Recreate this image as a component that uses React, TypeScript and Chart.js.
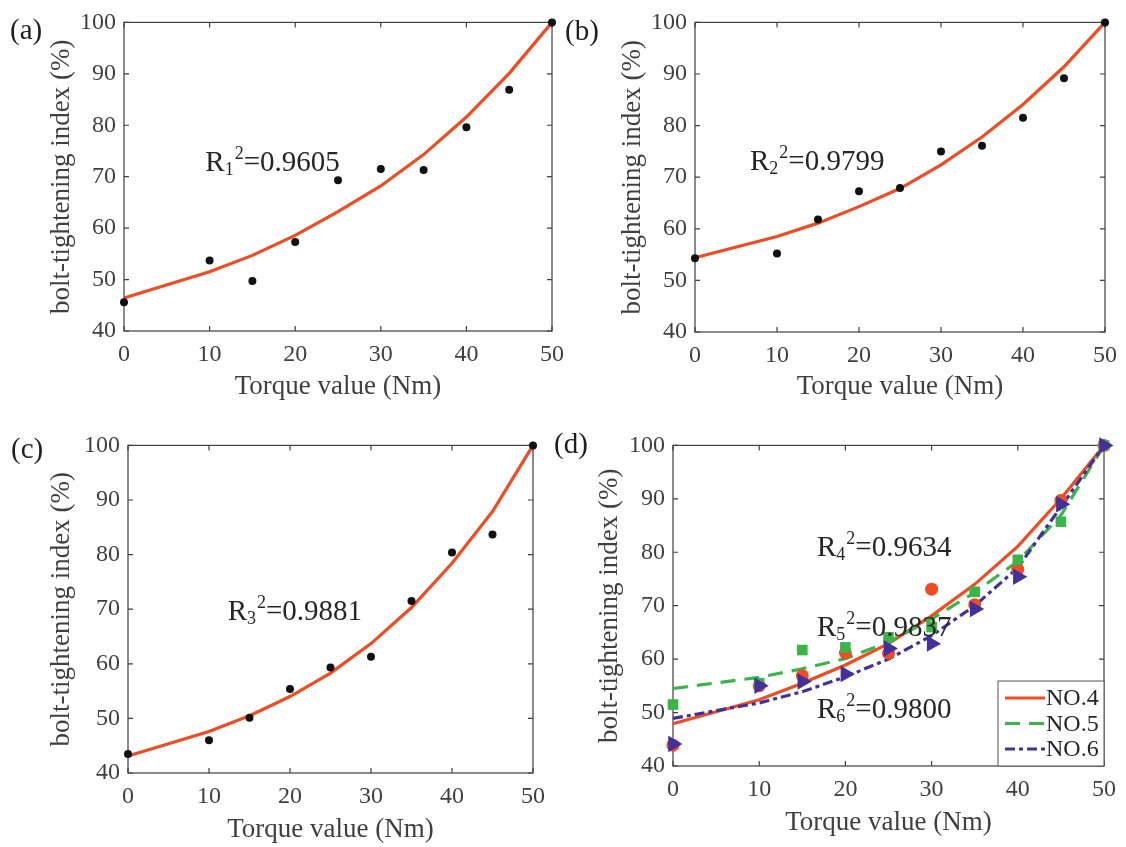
import React, { useEffect, useRef } from "react";
import { Chart, registerables } from "chart.js";

Chart.register(...registerables);

// ---------- data ----------
const torque = [0, 10, 15, 20, 25, 30, 35, 40, 45, 50];
const xTickValues = [0, 10, 20, 30, 40, 50];
const yTickValues = [40, 50, 60, 70, 80, 90, 100];

const measA = [45.6, 53.7, 49.7, 57.3, 69.3, 71.5, 71.3, 79.6, 86.9, 100];
const fitA = [46.4, 51.5, 54.7, 58.6, 63.2, 68.2, 74.3, 81.6, 90.1, 100];
const measB = [54.3, 55.2, 61.8, 67.3, 67.9, 75.0, 76.1, 81.5, 89.2, 100];
const fitB = [54.4, 58.5, 61.1, 64.3, 67.8, 72.4, 77.8, 84.1, 91.4, 100];
const measC = [43.5, 46.0, 50.1, 55.4, 59.3, 61.3, 71.5, 80.4, 83.7, 100];
const fitC = [43.1, 47.6, 50.5, 54.0, 58.3, 63.7, 70.3, 78.4, 87.9, 100];
const measNo4 = [43.9, 55.0, 56.9, 61.2, 61.1, 73.1, 70.2, 76.8, 89.7, 100];
const fitNo4 = [47.9, 52.4, 55.5, 58.9, 62.9, 68.1, 74.0, 81.1, 90.0, 100];
const measNo5 = [51.5, 55.5, 61.7, 62.2, 64.1, 66.0, 72.6, 78.6, 85.7, 100];
const fitNo5 = [54.5, 56.6, 58.2, 60.1, 63.2, 67.5, 72.5, 78.3, 86.9, 100];
const measNo6 = [44.1, 55.0, 55.8, 57.2, 62.0, 62.9, 69.4, 75.4, 89.0, 100];
const fitNo6 = [48.9, 51.8, 53.9, 56.7, 60.0, 64.4, 70.0, 77.1, 88.5, 100];

const rSquared = ["0.9605", "0.9799", "0.9881", "0.9634", "0.9837", "0.9800"];
const legendLabels = ["NO.4", "NO.5", "NO.6"];
const panelLabels = ["(a)", "(b)", "(c)", "(d)"];
const xTitle = "Torque value (Nm)";
const yTitle = "bolt-tightening index (%)";

// ---------- styles ----------
const FONT = "'Liberation Serif', 'Times New Roman', serif";
const AXIS_COLOR = "#3f3f3f";
const TEXT_COLOR = "#262626";
const RED = "#F04B22";
const GREEN = "#3BB44A";
const PURPLE = "#43309A";
const GREEN_DASH = [15, 9];
const PURPLE_DASH = [10, 4, 4, 4];

const pts = (xs: number[], ys: number[]) => xs.map((x, i) => ({ x, y: ys[i] }));

type Note = { sub: string; value: string; x: number; y: number };
type PanelCfg = {
  key: string;
  label: string;
  labelPos: [number, number];
  rect: [number, number, number, number];
  yw: number;
  xh: number;
  padTop: number;
  padRight: number;
  yTitlePad: number;
  xTitlePad: number;
  datasets: any[];
  notes: Note[];
  legend: boolean;
};

const dotSet = (ys: number[]) => ({
  data: pts(torque, ys),
  showLine: false,
  pointRadius: 4,
  pointBackgroundColor: "#111",
  pointBorderWidth: 0,
  clip: false,
});
const fitSet = (ys: number[], color: string, dash: number[] = []) => ({
  data: pts(torque, ys),
  showLine: true,
  borderColor: color,
  borderWidth: 3.2,
  borderDash: dash,
  pointRadius: 0,
  tension: 0,
  fill: false,
  clip: false,
});
const markerSet = (ys: number[], color: string, style: string, r: number, rot = 0) => ({
  data: pts(torque, ys),
  showLine: false,
  pointStyle: style,
  pointRadius: r,
  pointRotation: rot,
  pointBackgroundColor: color,
  pointBorderColor: color,
  pointBorderWidth: 0,
  clip: false,
});

const panels: PanelCfg[] = [
  {
    key: "a",
    label: panelLabels[0],
    labelPos: [10, 31],
    rect: [0, 0, 585, 423],
    yw: 124,
    xh: 92,
    padTop: 15,
    padRight: 33,
    yTitlePad: 46,
    xTitlePad: 20,
    datasets: [dotSet(measA), fitSet(fitA, RED)],
    notes: [{ sub: "1", value: rSquared[0], x: 9.5, y: 71.1 }],
    legend: false,
  },
  {
    key: "b",
    label: panelLabels[1],
    labelPos: [15, 32],
    rect: [550, 0, 576, 423],
    yw: 145,
    xh: 91,
    padTop: 17,
    padRight: 20,
    yTitlePad: 67,
    xTitlePad: 20,
    datasets: [dotSet(measB), fitSet(fitB, RED)],
    notes: [{ sub: "2", value: rSquared[1], x: 6.7, y: 71.4 }],
    legend: false,
  },
  {
    key: "c",
    label: panelLabels[2],
    labelPos: [11, 27],
    rect: [0, 423, 563, 424],
    yw: 128,
    xh: 74,
    padTop: 17,
    padRight: 30,
    yTitlePad: 46,
    xTitlePad: 1,
    datasets: [dotSet(measC), fitSet(fitC, RED)],
    notes: [{ sub: "3", value: rSquared[2], x: 12.3, y: 68.1 }],
    legend: false,
  },
  {
    key: "d",
    label: panelLabels[3],
    labelPos: [14, 22],
    rect: [540, 423, 586, 424],
    yw: 133,
    xh: 81,
    padTop: 18,
    padRight: 22,
    yTitlePad: 54,
    xTitlePad: 8,
    datasets: [
      markerSet(measNo6, PURPLE, "triangle", 9.5, 90),
      markerSet(measNo5, GREEN, "rect", 7.5),
      markerSet(measNo4, RED, "circle", 6.5),
      fitSet(fitNo6, PURPLE, PURPLE_DASH),
      fitSet(fitNo5, GREEN, GREEN_DASH),
      fitSet(fitNo4, RED),
    ],
    notes: [
      { sub: "4", value: rSquared[3], x: 16.7, y: 79.3 },
      { sub: "5", value: rSquared[4], x: 16.7, y: 64.4 },
      { sub: "6", value: rSquared[5], x: 16.7, y: 49.0 },
    ],
    legend: true,
  },
];

function drawNote(ctx: CanvasRenderingContext2D, x: number, y: number, sub: string, value: string) {
  ctx.fillStyle = TEXT_COLOR;
  ctx.textBaseline = "alphabetic";
  ctx.textAlign = "left";
  let cx = x;
  ctx.font = `29px ${FONT}`;
  ctx.fillText("R", cx, y);
  cx += ctx.measureText("R").width;
  ctx.font = `18px ${FONT}`;
  ctx.fillText(sub, cx, y + 4);
  cx += ctx.measureText(sub).width + 1;
  ctx.fillText("2", cx, y - 12);
  cx += ctx.measureText("2").width;
  ctx.font = `29px ${FONT}`;
  ctx.fillText("=" + value, cx, y);
}

function makePlugin(p: PanelCfg) {
  return {
    id: "decor_" + p.key,
    beforeDatasetsDraw(chart: any) {
      const { ctx, chartArea, scales } = chart;
      const { left, right, top, bottom } = chartArea;
      ctx.save();
      ctx.strokeStyle = AXIS_COLOR;
      ctx.lineWidth = 1.2;
      ctx.setLineDash([]);
      ctx.strokeRect(left, top, right - left, bottom - top);
      const tl = 5;
      ctx.beginPath();
      xTickValues.forEach((v) => {
        const px = scales.x.getPixelForValue(v);
        ctx.moveTo(px, bottom);
        ctx.lineTo(px, bottom - tl);
        ctx.moveTo(px, top);
        ctx.lineTo(px, top + tl);
      });
      yTickValues.forEach((v) => {
        const py = scales.y.getPixelForValue(v);
        ctx.moveTo(left, py);
        ctx.lineTo(left + tl, py);
        ctx.moveTo(right, py);
        ctx.lineTo(right - tl, py);
      });
      ctx.stroke();
      ctx.restore();
    },
    afterDatasetsDraw(chart: any) {
      const { ctx, chartArea, scales } = chart;
      ctx.save();
      p.notes.forEach((n) => {
        drawNote(ctx, scales.x.getPixelForValue(n.x), scales.y.getPixelForValue(n.y), n.sub, n.value);
      });
      if (p.legend) {
        const { right, bottom } = chartArea;
        const bw = 106;
        const bh = 85;
        const bx = right - bw;
        const by = bottom - bh;
        ctx.fillStyle = "#ffffff";
        ctx.fillRect(bx, by, bw, bh);
        ctx.strokeStyle = "#555555";
        ctx.lineWidth = 1;
        ctx.setLineDash([]);
        ctx.strokeRect(bx, by, bw, bh);
        const items = [
          { color: RED, dash: [] as number[] },
          { color: GREEN, dash: GREEN_DASH },
          { color: PURPLE, dash: PURPLE_DASH },
        ];
        items.forEach((it, i) => {
          const cy = by + 17 + i * 25.5;
          ctx.strokeStyle = it.color;
          ctx.lineWidth = 3.2;
          ctx.setLineDash(it.dash);
          ctx.beginPath();
          ctx.moveTo(bx + 7, cy);
          ctx.lineTo(bx + 47, cy);
          ctx.stroke();
          ctx.setLineDash([]);
          ctx.fillStyle = TEXT_COLOR;
          ctx.font = `24px ${FONT}`;
          ctx.textBaseline = "middle";
          ctx.textAlign = "left";
          ctx.fillText(legendLabels[i], bx + 48, cy + 1);
        });
      }
      ctx.restore();
    },
    afterDraw(chart: any) {
      const { ctx } = chart;
      ctx.save();
      ctx.fillStyle = "#1e1e1e";
      ctx.font = `29px ${FONT}`;
      ctx.textBaseline = "middle";
      ctx.textAlign = "left";
      ctx.fillText(p.label, p.labelPos[0], p.labelPos[1]);
      ctx.restore();
    },
  };
}

function buildConfig(p: PanelCfg): any {
  const tickFont = { family: FONT, size: 24, lineHeight: 1.2 };
  const titleFont = { family: FONT, size: 27, lineHeight: 1.2 };
  return {
    type: "scatter",
    data: { datasets: p.datasets },
    plugins: [makePlugin(p)],
    options: {
      animation: false,
      responsive: false,
      maintainAspectRatio: false,
      events: [],
      layout: { padding: { top: p.padTop, right: p.padRight, left: 0, bottom: 0 } },
      plugins: { legend: { display: false }, tooltip: { enabled: false } },
      scales: {
        x: {
          type: "linear",
          min: xTickValues[0],
          max: xTickValues[xTickValues.length - 1],
          afterBuildTicks: (s: any) => {
            s.ticks = xTickValues.map((v) => ({ value: v }));
          },
          grid: { display: false, drawTicks: false },
          border: { display: false },
          ticks: { color: AXIS_COLOR, font: tickFont, padding: 9, maxRotation: 0, autoSkip: false },
          title: {
            display: true,
            text: xTitle,
            color: AXIS_COLOR,
            font: titleFont,
            padding: { top: 0, bottom: p.xTitlePad },
          },
          afterFit: (s: any) => {
            s.height = p.xh;
          },
        },
        y: {
          type: "linear",
          min: yTickValues[0],
          max: yTickValues[yTickValues.length - 1],
          afterBuildTicks: (s: any) => {
            s.ticks = yTickValues.map((v) => ({ value: v }));
          },
          grid: { display: false, drawTicks: false },
          border: { display: false },
          ticks: { color: AXIS_COLOR, font: tickFont, padding: 8, autoSkip: false },
          title: {
            display: true,
            text: yTitle,
            color: AXIS_COLOR,
            font: titleFont,
            padding: { top: p.yTitlePad, bottom: 0 },
          },
          afterFit: (s: any) => {
            s.width = p.yw;
          },
        },
      },
    },
  };
}

function PanelChart({ cfg }: { cfg: PanelCfg }) {
  const ref = useRef<HTMLCanvasElement>(null);
  useEffect(() => {
    if (!ref.current) return;
    const chart = new Chart(ref.current, buildConfig(cfg));
    return () => chart.destroy();
  }, [cfg]);
  const [l, t, w, h] = cfg.rect;
  return (
    <canvas
      ref={ref}
      width={w}
      height={h}
      style={{ position: "absolute", left: l, top: t, width: w, height: h }}
    />
  );
}

export default function App() {
  return (
    <div
      style={{
        position: "absolute",
        left: 0,
        top: 0,
        width: 1126,
        height: 847,
        background: "#ffffff",
        overflow: "hidden",
      }}
    >
      {panels.map((p) => (
        <PanelChart key={p.key} cfg={p} />
      ))}
    </div>
  );
}
